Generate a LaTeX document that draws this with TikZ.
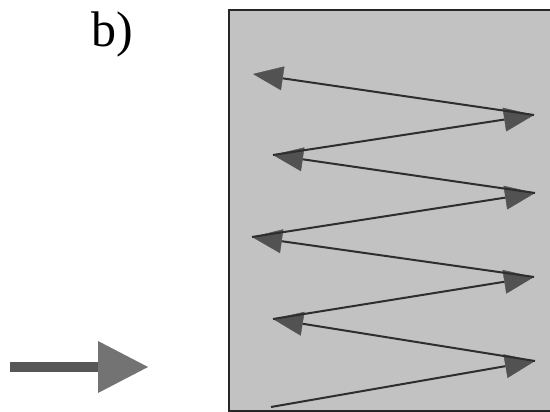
\documentclass[tikz,border=0pt]{standalone}
\usepackage{fontspec}
\setmainfont{Liberation Serif}
\usetikzlibrary{arrows.meta,positioning}
\tikzset{
  panel/.style={draw=black!85, line width=1.5pt, fill=black!24},
  ray/.style={-{Triangle[length=30pt, width=24pt, line width=0.4pt, black!68]}, draw=black!82, line width=2pt},
  feed/.style={-{Triangle[length=50pt, width=52pt, line width=0pt, black!55]}, draw=black!66, line width=10pt},
  lbl/.style={font=\fontsize{50}{56}\selectfont, inner sep=0pt},
}
\begin{document}
\begin{tikzpicture}[x=1pt, y=-1pt]
\clip (0,0) rectangle (550,412);
\fill[white] (0,0) rectangle (550,412);
\draw[panel] (229,10) rectangle (556,411);
\node[lbl] (tag) at (112,34) {b)};
% incoming beam
\coordinate (in0) at (10,367);
\coordinate (in1) at (148,367);
\draw[feed] (in0) -- (in1);
% zigzag path, bottom to top
\coordinate (z0) at (271,407);
\coordinate (z1) at (535,361);
\coordinate (z2) at (273,319);
\coordinate (z3) at (534,277);
\coordinate (z4) at (252,237);
\coordinate (z5) at (535,193);
\coordinate (z6) at (273,155);
\coordinate (z7) at (534,115);
\coordinate (z8) at (253,74);
\foreach \a/\b in {z0/z1,z1/z2,z2/z3,z3/z4,z4/z5,z5/z6,z6/z7,z7/z8}
  \draw[ray] (\a) -- (\b);
\end{tikzpicture}
\end{document}
